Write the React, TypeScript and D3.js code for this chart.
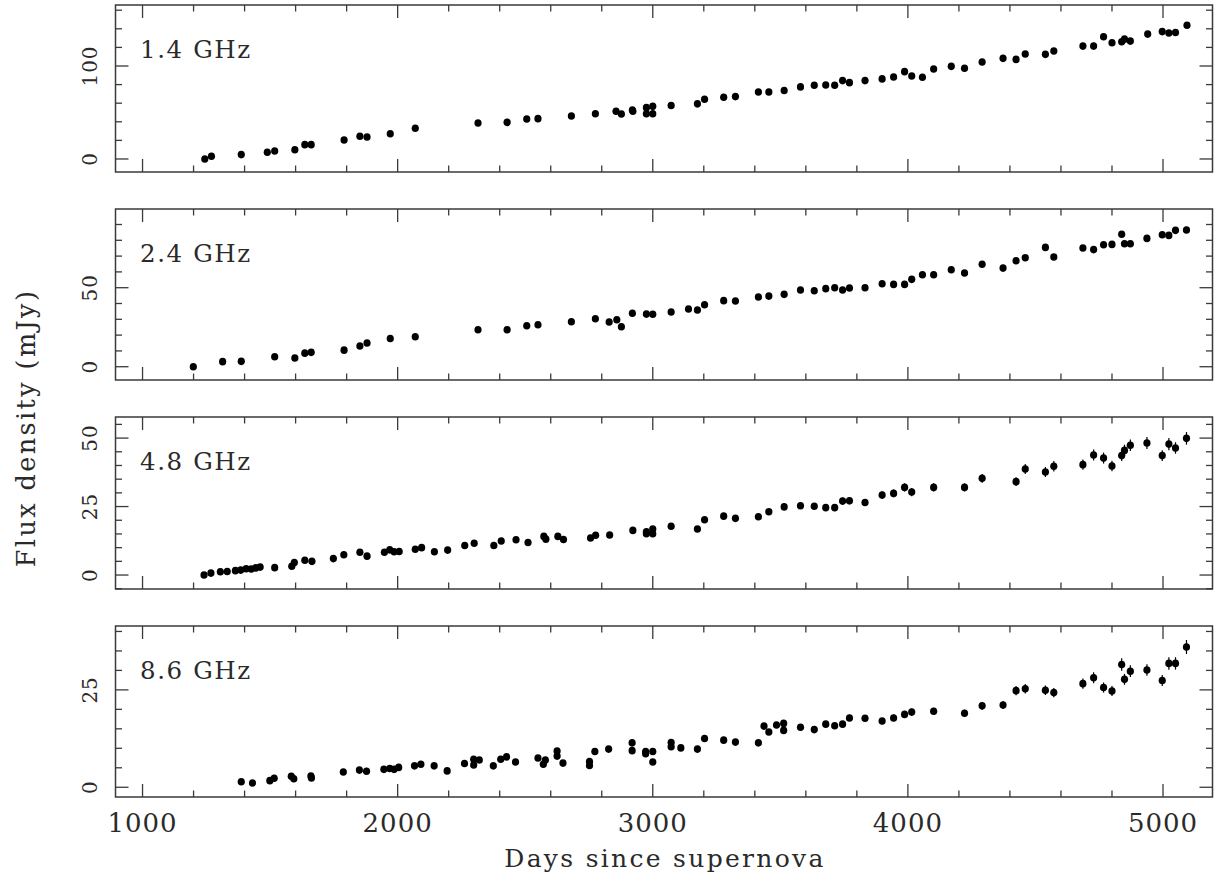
import React from 'react';
import * as d3 from 'd3';

// ---------------- data ----------------
const DAYS_14 = [1244, 1270, 1387, 1489, 1518, 1597, 1636, 1661, 1790, 1852, 1880, 1971, 2069, 2315, 2429, 2506, 2550, 2681, 2775, 2856, 2877, 2920, 2922, 2975, 2975, 3000, 3000, 3072, 3175, 3203, 3278, 3324, 3414, 3455, 3515, 3579, 3633, 3678, 3713, 3744, 3771, 3832, 3899, 3944, 3987, 4015, 4057, 4101, 4170, 4222, 4291, 4373, 4424, 4460, 4539, 4572, 4686, 4728, 4767, 4800, 4838, 4849, 4872, 4940, 4997, 5023, 5049, 5094];
const FLUX_14 = [0, 2.9, 4.7, 7.2, 8.6, 10.0, 15.4, 15.4, 20.4, 24.4, 23.7, 27.2, 33.0, 38.7, 39.4, 43.0, 43.4, 46.2, 48.7, 51.3, 48.4, 52.7, 51.3, 55.2, 48.7, 56.6, 48.7, 57.5, 59.3, 64.3, 66.4, 67.1, 72.1, 72.1, 73.6, 77.5, 79.3, 79.6, 79.3, 84.3, 82.1, 84.3, 86.1, 88.2, 93.9, 89.3, 87.9, 96.8, 99.6, 97.5, 104.3, 108.2, 107.1, 112.9, 112.5, 116.1, 121.4, 121.4, 131.4, 125.0, 126.0, 128.9, 126.8, 134.3, 137.0, 135.5, 136.0, 143.9];

const DAYS_24 = [1199, 1314, 1387, 1518, 1597, 1636, 1661, 1790, 1852, 1880, 1971, 2069, 2315, 2429, 2506, 2550, 2681, 2775, 2829, 2859, 2877, 2920, 2975, 3000, 3072, 3140, 3175, 3203, 3278, 3324, 3414, 3455, 3515, 3579, 3633, 3678, 3713, 3744, 3771, 3832, 3899, 3944, 3987, 4015, 4057, 4101, 4170, 4222, 4291, 4373, 4424, 4460, 4539, 4572, 4686, 4728, 4767, 4800, 4838, 4849, 4872, 4937, 4997, 5023, 5049, 5092];
const FLUX_24 = [0, 3.2, 3.4, 6.3, 5.5, 8.6, 9.1, 10.5, 13.1, 15.0, 17.9, 19.0, 23.4, 23.4, 25.9, 26.6, 28.5, 30.4, 28.3, 29.7, 25.3, 33.8, 33.3, 33.2, 34.6, 36.5, 35.9, 39.2, 41.8, 41.6, 44.1, 44.7, 45.8, 48.5, 48.1, 49.4, 50.0, 48.5, 49.8, 50.0, 52.5, 52.1, 52.1, 55.3, 58.2, 58.2, 61.4, 59.3, 64.8, 62.4, 67.1, 69.0, 75.5, 69.4, 75.1, 74.1, 77.2, 77.4, 83.8, 77.8, 77.8, 81.2, 83.5, 83.1, 86.3, 86.5];

const DAYS_48 = [1241, 1268, 1305, 1332, 1364, 1385, 1406, 1426, 1444, 1461, 1518, 1585, 1595, 1636, 1664, 1748, 1789, 1852, 1880, 1948, 1969, 1986, 2006, 2069, 2094, 2144, 2196, 2263, 2300, 2377, 2406, 2464, 2511, 2573, 2581, 2628, 2650, 2756, 2776, 2831, 2922, 2975, 2975, 3000, 3000, 3072, 3175, 3203, 3278, 3324, 3414, 3455, 3515, 3579, 3633, 3678, 3713, 3744, 3771, 3832, 3899, 3944, 3987, 4015, 4101, 4222, 4291, 4424, 4460, 4539, 4572, 4686, 4728, 4767, 4800, 4838, 4849, 4872, 4937, 4997, 5023, 5049, 5092];
const FLUX_48 = [0, 0.7, 1.2, 1.3, 1.6, 1.8, 2.3, 2.2, 2.6, 2.9, 2.7, 3.2, 4.6, 5.4, 5.0, 6.0, 7.4, 8.3, 6.9, 8.3, 9.2, 8.5, 8.6, 9.4, 10.0, 8.5, 9.1, 10.8, 11.6, 10.8, 12.4, 12.9, 11.9, 14.1, 13.1, 14.1, 13.0, 13.5, 14.5, 14.6, 16.3, 15.8, 15.1, 16.8, 15.1, 17.8, 16.8, 20.2, 21.5, 20.7, 21.3, 23.1, 24.9, 25.3, 25.1, 24.6, 24.6, 27.0, 27.1, 26.5, 29.2, 29.8, 32.0, 30.3, 32.0, 32.0, 35.3, 34.1, 38.7, 37.6, 39.7, 40.3, 43.8, 42.7, 39.8, 43.6, 45.5, 47.4, 48.2, 43.6, 47.8, 46.4, 49.9];
const ERR_48 = [0.3, 0.3, 0.3, 0.3, 0.3, 0.3, 0.3, 0.3, 0.3, 0.3, 0.4, 0.4, 0.4, 0.4, 0.4, 0.4, 0.4, 0.5, 0.5, 0.5, 0.5, 0.5, 0.5, 0.5, 0.5, 0.5, 0.5, 0.6, 0.6, 0.6, 0.6, 0.6, 0.6, 0.7, 0.7, 0.7, 0.7, 0.7, 0.7, 0.7, 0.8, 0.8, 0.8, 0.8, 0.8, 0.9, 0.9, 1.0, 1.0, 1.0, 1.1, 1.1, 1.2, 1.2, 1.2, 1.2, 1.2, 1.3, 1.3, 1.3, 1.4, 1.4, 1.5, 1.5, 1.5, 1.5, 1.6, 1.6, 1.8, 1.8, 1.9, 1.9, 2.0, 2.0, 1.9, 2.0, 2.1, 2.1, 2.2, 2.0, 2.2, 2.1, 2.3];

const DAYS_86 = [1387, 1431, 1499, 1516, 1583, 1593, 1660, 1662, 1787, 1850, 1878, 1946, 1969, 1986, 2004, 2066, 2091, 2143, 2194, 2262, 2298, 2298, 2320, 2375, 2404, 2427, 2462, 2550, 2571, 2579, 2625, 2625, 2648, 2752, 2752, 2773, 2827, 2919, 2919, 2972, 2972, 3000, 3000, 3072, 3072, 3110, 3175, 3203, 3278, 3324, 3414, 3436, 3455, 3485, 3513, 3513, 3579, 3633, 3678, 3713, 3744, 3771, 3832, 3899, 3944, 3987, 4015, 4101, 4222, 4291, 4373, 4424, 4460, 4539, 4572, 4686, 4728, 4767, 4800, 4838, 4849, 4872, 4937, 4997, 5023, 5049, 5092];
const FLUX_86 = [1.4, 1.1, 1.7, 2.3, 2.8, 2.2, 2.9, 2.4, 3.9, 4.4, 4.1, 4.6, 4.8, 4.6, 5.1, 5.5, 5.9, 5.5, 4.2, 6.1, 5.7, 7.2, 7.0, 5.5, 7.2, 7.8, 6.5, 7.5, 5.9, 7.0, 9.3, 8.0, 6.2, 6.6, 5.6, 9.2, 9.8, 11.4, 9.4, 9.2, 8.6, 9.2, 6.5, 11.5, 10.4, 10.1, 9.8, 12.5, 12.1, 11.6, 11.4, 15.7, 14.2, 16.0, 16.4, 14.6, 15.4, 14.8, 16.2, 15.8, 16.2, 17.8, 17.7, 17.0, 17.8, 18.7, 19.3, 19.5, 19.0, 20.9, 21.1, 24.8, 25.3, 24.9, 24.3, 26.6, 28.1, 25.6, 24.7, 31.5, 27.7, 29.8, 30.1, 27.4, 31.8, 31.8, 36.0];
const ERR_86 = [0.3, 0.3, 0.3, 0.3, 0.3, 0.3, 0.3, 0.3, 0.3, 0.3, 0.3, 0.3, 0.3, 0.3, 0.3, 0.3, 0.3, 0.3, 0.3, 0.4, 0.4, 0.4, 0.4, 0.4, 0.4, 0.4, 0.4, 0.4, 0.4, 0.4, 0.5, 0.5, 0.5, 0.5, 0.5, 0.5, 0.5, 0.5, 0.5, 0.5, 0.5, 0.5, 0.5, 0.6, 0.6, 0.6, 0.6, 0.6, 0.6, 0.6, 0.6, 0.7, 0.7, 0.7, 0.7, 0.7, 0.7, 0.7, 0.7, 0.7, 0.7, 0.8, 0.8, 0.8, 0.8, 0.9, 0.9, 0.9, 0.9, 1.0, 1.0, 1.2, 1.2, 1.2, 1.2, 1.3, 1.4, 1.3, 1.3, 1.6, 1.4, 1.5, 1.5, 1.4, 1.6, 1.6, 1.8];

const PANEL_LABELS = ['1.4 GHz', '2.4 GHz', '4.8 GHz', '8.6 GHz'];
const X_TICK_LABELS = [1000, 2000, 3000, 4000, 5000];
const Y_TICK_LABELS = [[0, 100], [0, 50], [0, 25, 50], [0, 25]];

// ---------------- layout ----------------
const W = 1214;
const H = 875;
const FONT = '"DejaVu Serif", "Liberation Serif", serif';
const INK = '#2a2a2a';
const FRAME = '#3a3a3a';

const x = d3.scaleLinear().domain([894, 5194]).range([115.5, 1212.5]);

const PANELS = [
  { top: 5, bottom: 172, domain: [-14, 165.6], major: 100, minor: 20, days: DAYS_14, flux: FLUX_14, err: null as number[] | null },
  { top: 209, bottom: 380, domain: [-8.4, 99.8], major: 50, minor: 10, days: DAYS_24, flux: FLUX_24, err: null as number[] | null },
  { top: 417, bottom: 589, domain: [-5.1, 57.7], major: 25, minor: 5, days: DAYS_48, flux: FLUX_48, err: ERR_48 },
  { top: 626, bottom: 797, domain: [-2.5, 41.4], major: 25, minor: 5, days: DAYS_86, flux: FLUX_86, err: ERR_86 },
];

const MAJ = 13;
const MIN = 6.5;

function Panel({ p, idx }: { p: typeof PANELS[number]; idx: number }) {
  const y = d3.scaleLinear().domain(p.domain).range([p.bottom, p.top]);
  const [x0, x1] = x.range();
  const xTicks = d3.range(1000, 5194, 200);
  const yStart = Math.ceil(p.domain[0] / p.minor) * p.minor;
  const yTicks = d3.range(yStart, p.domain[1], p.minor);
  const isMajX = (v: number) => Math.abs(v % 1000) < 1e-6;
  const isMajY = (v: number) => Math.abs(v % p.major) < 1e-6;
  return (
    <g>
      {xTicks.map((v) => {
        const len = isMajX(v) ? MAJ : MIN;
        const xx = x(v);
        return (
          <g key={'x' + v}>
            <line x1={xx} x2={xx} y1={p.bottom} y2={p.bottom - len} stroke={FRAME} strokeWidth={1.3} />
            <line x1={xx} x2={xx} y1={p.top} y2={p.top + len} stroke={FRAME} strokeWidth={1.3} />
          </g>
        );
      })}
      {yTicks.map((v) => {
        const len = isMajY(v) ? MAJ : MIN;
        const yy = y(v);
        return (
          <g key={'y' + v}>
            <line x1={x0} x2={x0 + len} y1={yy} y2={yy} stroke={FRAME} strokeWidth={1.3} />
            <line x1={x1} x2={x1 - len} y1={yy} y2={yy} stroke={FRAME} strokeWidth={1.3} />
          </g>
        );
      })}
      <rect x={x0} y={p.top} width={x1 - x0} height={p.bottom - p.top} fill="none" stroke={FRAME} strokeWidth={1.5} />
      {Y_TICK_LABELS[idx].map((v) => (
        <text key={'yl' + v} transform={`translate(97,${y(v)}) rotate(-90)`} textAnchor="middle" fontFamily={FONT} fontSize={20} fill={INK} letterSpacing={1}>
          {v}
        </text>
      ))}
      <text x={140} y={p.top + 53} fontFamily={FONT} fontSize={24.5} fill={INK} letterSpacing={1.6}>
        {PANEL_LABELS[idx]}
      </text>
      {p.err &&
        p.days.map((d, i) => (
          <line key={'e' + i} x1={x(d)} x2={x(d)} y1={y(p.flux[i] - p.err![i])} y2={y(p.flux[i] + p.err![i])} stroke="#000" strokeWidth={1.2} />
        ))}
      {p.days.map((d, i) => (
        <ellipse key={'p' + i} cx={x(d)} cy={y(p.flux[i])} rx={3.6} ry={3.8} fill="#000" />
      ))}
    </g>
  );
}

export default function App() {
  return (
    <div style={{ position: 'absolute', left: 0, top: 0 }}>
      <svg width={W} height={H} viewBox={`0 0 ${W} ${H}`} style={{ display: 'block', background: '#fff' }}>
        <rect width={W} height={H} fill="#fff" />
        {PANELS.map((p, i) => (
          <Panel key={i} p={p} idx={i} />
        ))}
        {X_TICK_LABELS.map((v) => (
          <text key={'xl' + v} x={x(v)} y={832} textAnchor="middle" fontFamily={FONT} fontSize={26} fill={INK} letterSpacing={1}>
            {v}
          </text>
        ))}
        <text x={665} y={867} textAnchor="middle" fontFamily={FONT} fontSize={25} fill={INK} letterSpacing={2.3}>
          Days since supernova
        </text>
        <text transform="translate(35,428) rotate(-90)" textAnchor="middle" fontFamily={FONT} fontSize={25.5} fill={INK} letterSpacing={2.4}>
          Flux density (mJy)
        </text>
      </svg>
    </div>
  );
}
